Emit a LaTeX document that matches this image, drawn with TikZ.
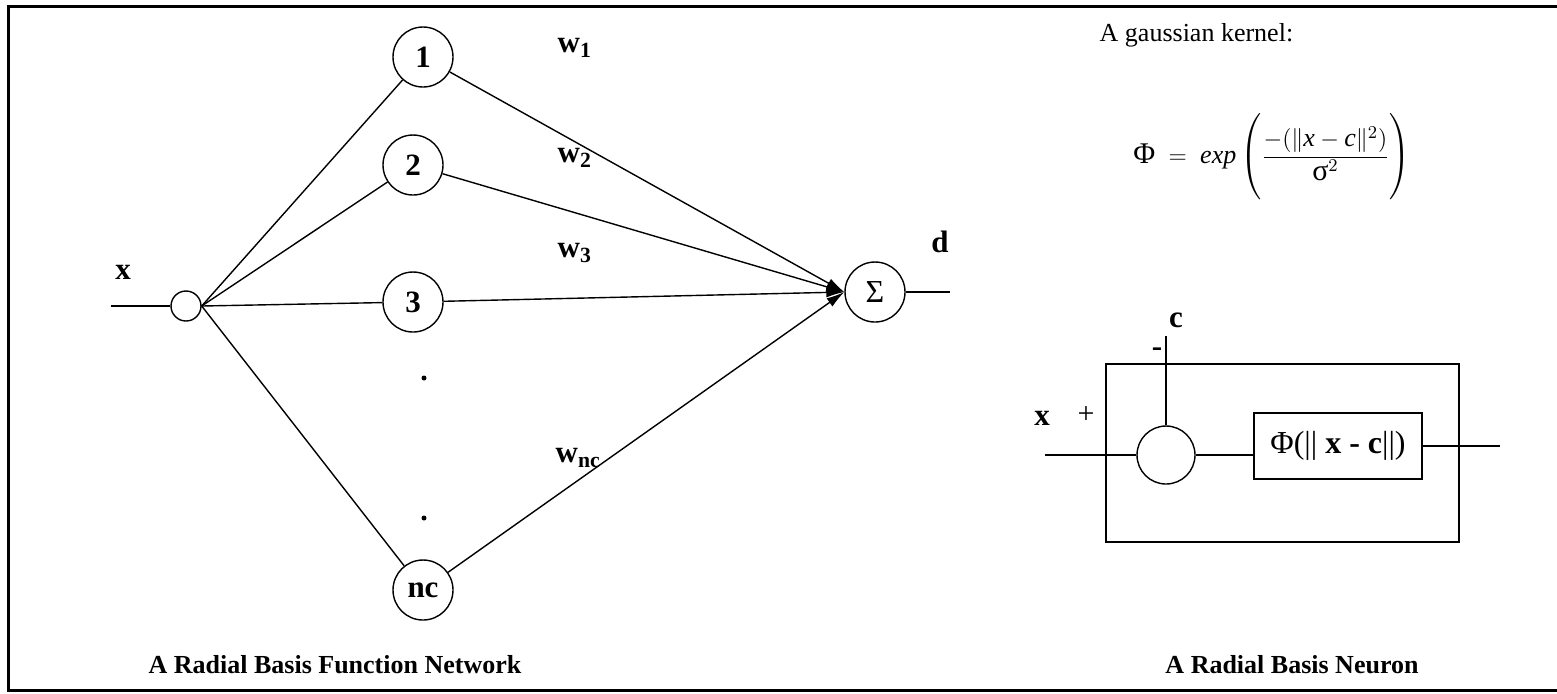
\documentclass[tikz,border=0pt]{standalone}
\usepackage{amsmath}
\usepackage{fontspec}
\setmainfont{Liberation Serif}
\usepackage{tikz}
\usetikzlibrary{arrows.meta,positioning}

\begin{document}
\begin{tikzpicture}[x=0.5pt,y=-0.5pt,line width=0.7pt,
  font=\fontsize{13}{15}\selectfont,
  unit/.style={circle,draw,minimum size=30pt,inner sep=0pt,font=\fontsize{15.5}{17}\selectfont\bfseries},
  lbl/.style={font=\fontsize{15.5}{17}\selectfont\bfseries,inner sep=1pt},
  vdot/.style={circle,fill,minimum size=2.5pt,inner sep=0pt},
  wgt/.style={-{Latex[length=9pt,width=5pt]}}]
  \useasboundingbox (0,0) rectangle (1557,693);
  % frame, open on the right
  \draw[line width=1.5pt] (1557,6) -- (8,6) -- (8,690) -- (1557,690);

  % network
  \node[circle,draw,minimum size=15pt,inner sep=0pt] (in) at (186,306) {};
  \coordinate (xin) at (111,306);
  \draw (xin) -- (in);
  \node[lbl] (xlbl) at (123,272) {x};
  \node[unit] (n1) at (423,57) {1};
  \node[unit] (n2) at (413,165) {2};
  \node[unit] (n3) at (413,302) {3};
  \node[unit] (nc) at (423,590) {nc};
  \node[vdot] (vd1) at (424,378) {};
  \node[vdot] (vd2) at (424,518) {};
  \node[unit,font=\fontsize{16}{18}\selectfont] (sum) at (875,292) {Σ};
  \foreach \n in {n1,n2,n3,nc}
    \draw (in.east) -- (\n);
  \foreach \n in {n1,n2,n3,nc}
    \draw[wgt] (\n) -- (sum.west);
  \node[lbl,anchor=west] (w1) at (555,48) {w\textsubscript{1}};
  \node[lbl,anchor=west] (w2) at (555,158) {w\textsubscript{2}};
  \node[lbl,anchor=west] (w3) at (555,253) {w\textsubscript{3}};
  \node[lbl,anchor=west] (wnc) at (553,458) {w\textsubscript{nc}};
  \coordinate (dout) at (950,292);
  \draw (sum.east) -- (dout);
  \node[lbl] (dlbl) at (940,242) {d};
  \node[lbl,font=\fontsize{13}{15}\selectfont\bfseries] (cap1) at (335,665) {A Radial Basis Function Network};

  % kernel
  \node[anchor=west,inner sep=0pt] (kern) at (1099,35) {A gaussian kernel:};
  \node[font=\fontsize{13}{15}\selectfont] (form) at (1272,157)
    {$\text{\fontsize{15}{17}\selectfont Φ}\;=\;\textit{exp}\left(\dfrac{-(\|\textit{x}-\textit{c}\|^2)}{\text{\fontsize{15}{17}\selectfont σ}^2}\vphantom{\rule[-18pt]{0pt}{40pt}}\right)$};

  % neuron
  \node[draw,minimum width=176.5pt,minimum height=89pt] (nbox) at (1282.5,453) {};
  \node[circle,draw,minimum size=29pt,inner sep=0pt] (diff) at (1166,455) {};
  \coordinate (cin) at (1166,336);
  \draw (cin) -- (diff);
  \node[lbl] (clbl) at (1176,320) {c};
  \node[lbl] (minus) at (1157,352) {-};
  \coordinate (xin2) at (1045,455);
  \draw (xin2) -- (diff);
  \node[lbl] (x2lbl) at (1042,418) {x};
  \node[lbl,font=\fontsize{15}{17}\selectfont] (plus) at (1086,415) {+};
  \node[draw,minimum width=84pt,minimum height=33pt,font=\fontsize{16}{18}\selectfont] (phi) at (1338,446) {Φ(|| \textbf{x - c}||)};
  \draw (diff.east) -- (diff.east -| phi.west);
  \coordinate (yout) at (1500,446);
  \draw (phi.east) -- (yout);
  \node[lbl,font=\fontsize{13}{15}\selectfont\bfseries] (cap2) at (1292,665) {A Radial Basis Neuron};
\end{tikzpicture}
\end{document}
